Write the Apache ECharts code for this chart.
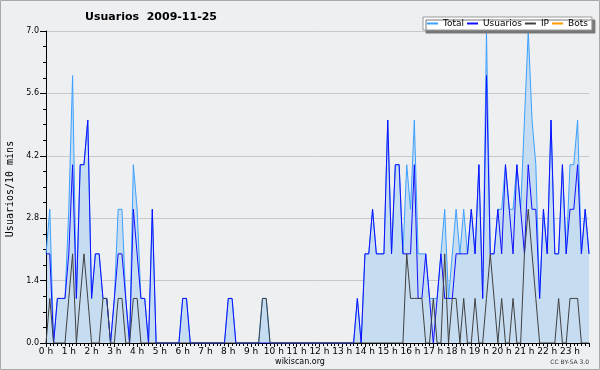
<!DOCTYPE html>
<html>
<head>
<meta charset="utf-8">
<script src="https://cdn.jsdelivr.net/npm/echarts@6/dist/echarts.min.js"></script>
<style>
html,body{margin:0;padding:0;background:#eeeff1;}
#chart{width:600px;height:370px;}
</style>
</head>
<body>
<div id="chart"></div>
<script>
// 10-minute slots, one row per hour (6 slots each)
const hourLabels = ['0 h','1 h','2 h','3 h','4 h','5 h','6 h','7 h','8 h','9 h','10 h','11 h',
  '12 h','13 h','14 h','15 h','16 h','17 h','18 h','19 h','20 h','21 h','22 h','23 h'];
const yTicks = [0, 1.4, 2.8, 4.2, 5.6, 7.0];

const total = [
  2,3,0,1,1,1,  3,6,1,4,4,5,  1,2,2,1,1,0,  1,3,3,1,0,4,
  3,1,1,0,3,0,  0,0,0,0,0,0,  1,1,0,0,0,0,  0,0,0,0,0,0,
  1,1,0,0,0,0,  0,0,0,1,1,0,  0,0,0,0,0,0,  0,0,0,0,0,0,
  0,0,0,0,0,0,  0,0,0,0,1,0,  2,2,3,2,2,2,  5,2,4,4,2,4,
  3,5,2,2,2,1,  1,1,2,3,1,2,  3,2,3,2,3,2,  4,1,7,2,2,3,
  3,4,3,3,4,3,  5,7,5,4,1,3,  2,5,2,2,4,2,  4,4,5,2,3,2
];
const usuarios = [
  2,2,0,1,1,1,  2,4,1,4,4,5,  1,2,2,1,1,0,  1,2,2,1,0,3,
  2,1,1,0,3,0,  0,0,0,0,0,0,  1,1,0,0,0,0,  0,0,0,0,0,0,
  1,1,0,0,0,0,  0,0,0,0,0,0,  0,0,0,0,0,0,  0,0,0,0,0,0,
  0,0,0,0,0,0,  0,0,0,0,1,0,  2,2,3,2,2,2,  5,2,4,4,2,2,
  2,4,1,1,2,1,  0,1,2,1,1,1,  2,2,2,2,3,2,  4,1,6,2,2,3,
  2,4,3,2,4,3,  2,4,3,3,1,3,  2,5,2,2,4,2,  3,3,4,2,3,2
];
const ip = [
  0,1,0,0,0,0,  1,2,0,1,2,1,  0,0,0,1,1,0,  0,1,1,0,0,1,
  1,0,0,0,0,0,  0,0,0,0,0,0,  0,0,0,0,0,0,  0,0,0,0,0,0,
  0,0,0,0,0,0,  0,0,0,1,1,0,  0,0,0,0,0,0,  0,0,0,0,0,0,
  0,0,0,0,0,0,  0,0,0,0,0,0,  0,0,0,0,0,0,  0,0,0,0,0,2,
  1,1,1,1,0,0,  1,0,0,2,0,1,  1,0,1,0,0,1,  0,0,1,2,1,0,
  1,0,0,1,0,0,  2,3,2,1,0,0,  0,0,0,1,0,0,  1,1,1,0,0,0
];
const bots = total.map(() => 0);

const pairs = arr => arr.map((v, i) => [i, v]);

const COLORS = {Total: '#3ca0ff', Usuarios: '#1010ff', IP: '#404040', Bots: '#ff9900'};
const chart = echarts.init(document.getElementById('chart'), null, {renderer: 'canvas'});
const FONT = 'DejaVu Sans';
chart.setOption({
  animation: false,
  backgroundColor: '#eeeff1',
  grid: {left: 46, top: 31, width: 543, height: 312, containLabel: false},
  legend: {
    left: 423, top: 17,
    icon: 'rect', itemWidth: 11, itemHeight: 2, itemGap: 3,
    padding: [2, 4, 2, 4],
    backgroundColor: '#ffffff', borderColor: '#999999', borderWidth: 1,
    shadowColor: '#777777', shadowOffsetX: 3, shadowOffsetY: 3, shadowBlur: 0,
    itemStyle: {borderWidth: 0},
    textStyle: {fontFamily: FONT, fontSize: 9, color: '#000'},
    data: ['Total', 'Usuarios', 'IP', 'Bots'].map(n => ({
      name: n, icon: 'rect',
      itemStyle: {color: COLORS[n], borderColor: COLORS[n], borderWidth: 0}
    }))
  },
  xAxis: {
    type: 'value', min: 0, max: 143, interval: 6, z: 3,
    axisLine: {show: true, lineStyle: {color: '#000', width: 1}},
    axisTick: {show: true, inside: false, length: 4, lineStyle: {color: '#000'}},
    minorTick: {show: true, splitNumber: 6, length: 3, lineStyle: {color: '#000'}},
    splitLine: {show: false},
    axisLabel: {
      margin: 4, fontFamily: FONT, fontSize: 9, color: '#000', showMaxLabel: false,
      formatter: v => (v % 6 === 0 ? hourLabels[v / 6] : '')
    }
  },
  yAxis: {
    type: 'value', min: 0, max: 7, interval: 1.4, z: 3,
    axisLine: {show: true, lineStyle: {color: '#000', width: 1}},
    axisTick: {show: true, inside: false, length: 6, lineStyle: {color: '#000'}},
    minorTick: {show: true, splitNumber: 4, length: 3, lineStyle: {color: '#000'}},
    splitLine: {show: true, lineStyle: {color: '#c8c8c8', width: 1}},
    axisLabel: {
      margin: 7, fontFamily: FONT, fontSize: 8, color: '#000',
      formatter: v => v.toFixed(1)
    }
  },
  series: [
    {name: 'Total', type: 'line', data: pairs(total), showSymbol: false, symbol: 'none',
     lineStyle: {color: COLORS.Total, width: 1}, itemStyle: {color: COLORS.Total},
     areaStyle: {color: '#c6dcf0', opacity: 1}},
    {name: 'Usuarios', type: 'line', data: pairs(usuarios), showSymbol: false, symbol: 'none',
     lineStyle: {color: COLORS.Usuarios, width: 1}, itemStyle: {color: COLORS.Usuarios}},
    {name: 'IP', type: 'line', data: pairs(ip), showSymbol: false, symbol: 'none',
     lineStyle: {color: COLORS.IP, width: 1}, itemStyle: {color: COLORS.IP}},
    {name: 'Bots', type: 'line', data: pairs(bots), showSymbol: false, symbol: 'none', z: 1,
     lineStyle: {color: COLORS.Bots, width: 1}, itemStyle: {color: COLORS.Bots}}
  ],
  graphic: [
    {type: 'rect', silent: true, z: 100,
     shape: {x: 0.5, y: 0.5, width: 599, height: 369},
     style: {fill: 'none', stroke: '#a8a8a8', lineWidth: 1}},
    {type: 'text', x: 151, y: 17, z: 100,
     style: {text: 'Usuarios  2009-11-25', font: 'bold 11px "DejaVu Sans"', fill: '#000',
             align: 'center', verticalAlign: 'middle'}},
    {type: 'text', x: 10.5, y: 189, rotation: Math.PI / 2, z: 100,
     style: {text: 'Usuarios/10 mins', font: '10px "DejaVu Sans Mono"', fill: '#000',
             align: 'center', verticalAlign: 'middle'}},
    {type: 'text', x: 300, y: 362, z: 100,
     style: {text: 'wikiscan.org', font: '8px "DejaVu Sans"', fill: '#000',
             align: 'center', verticalAlign: 'middle'}},
    {type: 'text', x: 589, y: 362, z: 100,
     style: {text: 'CC BY-SA 3.0', font: '6px "DejaVu Sans"', fill: '#333',
             align: 'right', verticalAlign: 'middle'}}
  ]
});
</script>
</body>
</html>
